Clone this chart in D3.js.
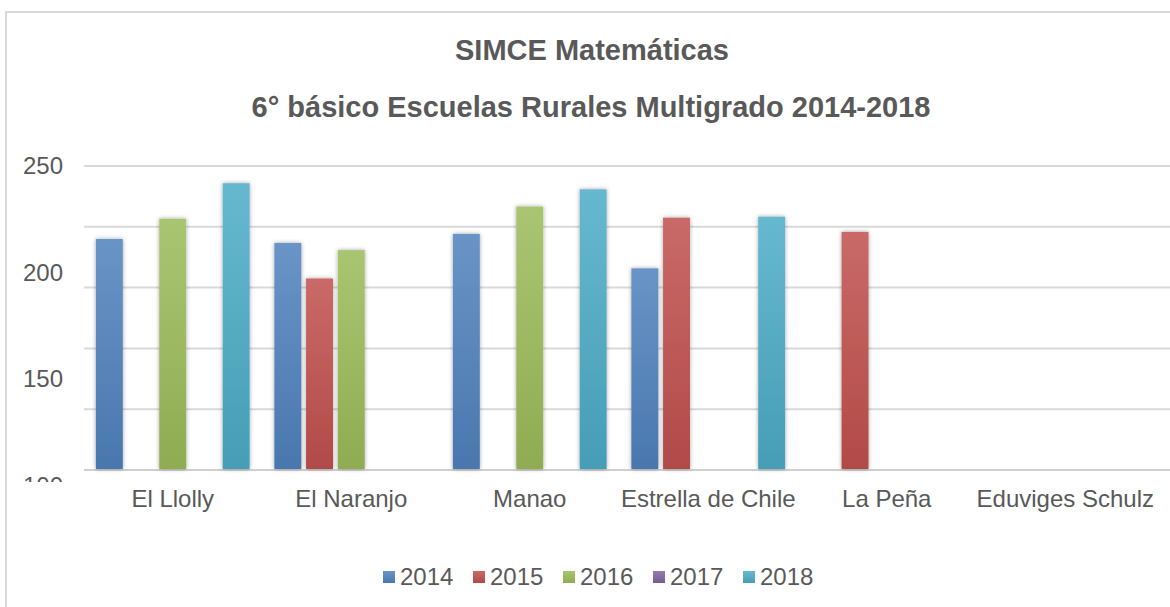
<!DOCTYPE html>
<html>
<head>
<meta charset="utf-8">
<script src="https://cdn.jsdelivr.net/npm/d3@7"></script>
<style>
  html, body { margin: 0; padding: 0; background: #fff; }
  svg { display: block; }
</style>
</head>
<body>
<script>
// ---- data ----
const categories = ["El Llolly", "El Naranjo", "Manao", "Estrella de Chile", "La Peña", "Eduviges Schulz"];
const years = ["2014", "2015", "2016", "2017", "2018"];
const v2014 = [214, 212, 216.5, 199.5, null, null];
const v2015 = [null, 194.5, null, 224.5, 217.5, null];
const v2016 = [224, 208.5, 230, null, null, null];
const v2017 = [null, null, null, null, null, null];
const v2018 = [241.5, null, 238.5, 225, null, null];
const gridValues = [100, 130, 160, 190, 220, 250];
const tickLabels = [250, 200, 150, 100];
const titleLines = ["SIMCE Matemáticas", "6° básico Escuelas Rurales Multigrado 2014-2018"];
const colors = ["#4F81BD", "#C0504D", "#9BBB59", "#8064A2", "#4BACC6"];

const seriesValues = [v2014, v2015, v2016, v2017, v2018];
const W = 1170, H = 607;
const font = "'Liberation Sans', Arial, sans-serif";
const textColor = "#595959";

const svg = d3.select("body").append("svg").attr("width", W).attr("height", H);
const defs = svg.append("defs");

// gradients
colors.forEach((c, i) => {
  const g = defs.append("linearGradient").attr("id", "grad" + i)
    .attr("x1", 0).attr("y1", 0).attr("x2", 0).attr("y2", 1);
  g.append("stop").attr("offset", "0%").attr("stop-color", d3.interpolateRgb(c, "#fff")(0.15));
  g.append("stop").attr("offset", "100%").attr("stop-color", d3.interpolateRgb(c, "#000")(0.08));
});
const f = defs.append("filter").attr("id", "shadow").attr("x", "-30%").attr("y", "-5%").attr("width", "160%").attr("height", "110%");
f.append("feDropShadow").attr("dx", 0).attr("dy", 0).attr("stdDeviation", 2).attr("flood-color", "#000").attr("flood-opacity", 0.35);
defs.append("clipPath").attr("id", "labelClip").append("rect").attr("x", 0).attr("y", 140).attr("width", 80).attr("height", 342);

// border
svg.append("path").attr("d", `M6,${H} L6,12 L${W},12`).attr("fill", "none").attr("stroke", "#d9d9d9").attr("stroke-width", 2);

// titles
svg.append("text").attr("x", 592).attr("y", 60).attr("text-anchor", "middle")
  .attr("font-family", font).attr("font-weight", "bold").attr("font-size", 29).attr("fill", textColor).text(titleLines[0]);
svg.append("text").attr("x", 591).attr("y", 117).attr("text-anchor", "middle")
  .attr("font-family", font).attr("font-weight", "bold").attr("font-size", 29).attr("fill", textColor).text(titleLines[1]);

// scales
const x0 = d3.scaleBand().domain(categories).range([83.5, 1154.5]).padding(0);
const x1 = d3.scaleBand().domain(years).range([0, x0.bandwidth()]).paddingInner(0.15).paddingOuter(0.39);
const y = d3.scaleLinear().domain([100, 250]).range([470, 166]);
const yLabel = d3.scaleLinear().domain([100, 250]).range([485.5, 166]);

// gridlines
svg.append("g").selectAll("line").data(gridValues).join("line")
  .attr("x1", 84).attr("x2", W)
  .attr("y1", d => y(d)).attr("y2", d => y(d))
  .attr("stroke", d => d === 100 ? "#d0d0d0" : "#d9d9d9").attr("stroke-width", 2);

// y labels (as drawn in the reference, clipped at the bottom)
svg.append("g").attr("clip-path", "url(#labelClip)").selectAll("text").data(tickLabels).join("text")
  .attr("x", 63).attr("y", d => yLabel(d)).attr("dy", "0.35em").attr("text-anchor", "end")
  .attr("font-family", font).attr("font-size", 24).attr("fill", textColor).text(d => d);

// bars
const barData = [];
seriesValues.forEach((vals, si) => {
  vals.forEach((v, ci) => {
    if (v != null) barData.push({ cat: categories[ci], year: years[si], si, v });
  });
});
svg.append("g").selectAll("rect").data(barData).join("rect")
  .attr("x", d => x0(d.cat) + x1(d.year))
  .attr("width", x1.bandwidth())
  .attr("y", d => y(d.v))
  .attr("height", d => y(100) - 1 - y(d.v))
  .attr("fill", d => `url(#grad${d.si})`)
  .attr("filter", "url(#shadow)");

// category labels
svg.append("g").selectAll("text").data(categories).join("text")
  .attr("x", d => x0(d) + x0.bandwidth() / 2).attr("y", 507).attr("text-anchor", "middle")
  .attr("font-family", font).attr("font-size", 24).attr("fill", textColor).text(d => d);

// legend
const itemW = 90;
const legend = svg.append("g").attr("transform", `translate(383,0)`);
const items = legend.selectAll("g").data(years).join("g")
  .attr("transform", (d, i) => `translate(${i * itemW},0)`);
items.append("rect").attr("x", 0).attr("y", 571).attr("width", 12).attr("height", 12)
  .attr("fill", (d, i) => `url(#grad${i})`);
items.append("text").attr("x", 17).attr("y", 585)
  .attr("font-family", font).attr("font-size", 24).attr("fill", textColor).text(d => d);
</script>
</body>
</html>
